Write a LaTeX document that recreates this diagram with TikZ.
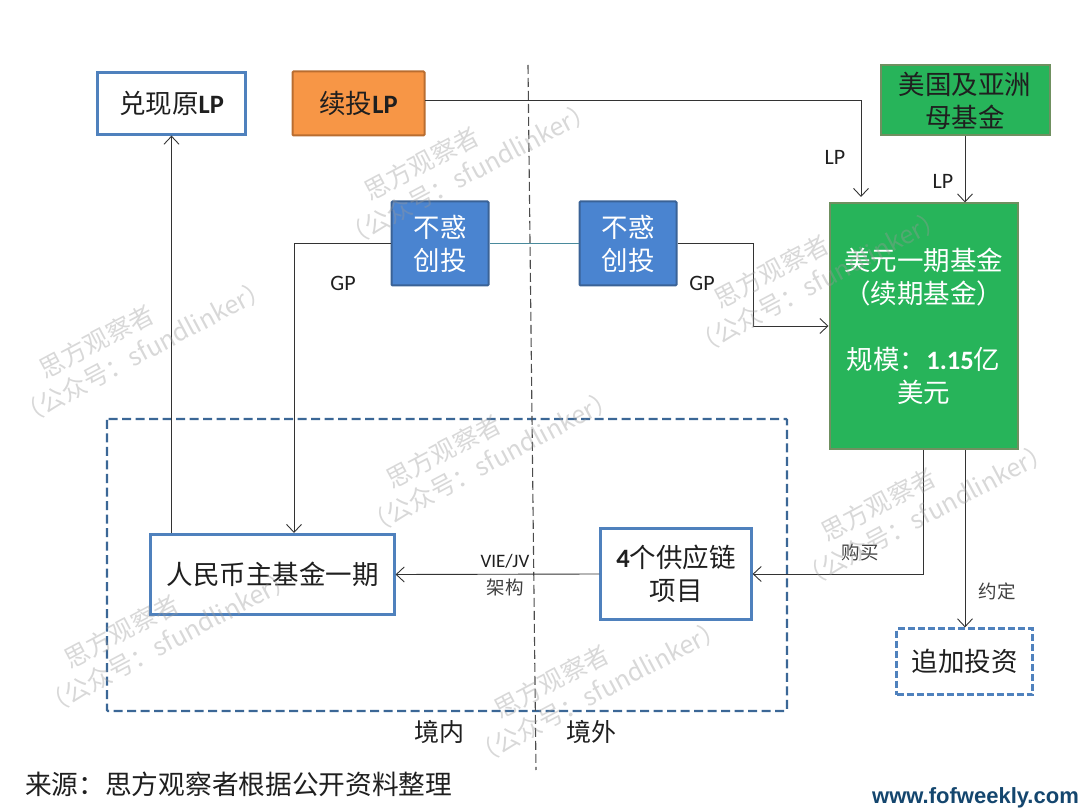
\documentclass[tikz,border=0pt]{standalone}
\usepackage{fontspec}
\setmainfont{Noto Sans CJK SC}
\newfontfamily\carlito{Carlito}
\newfontfamily\liberation{Liberation Sans}
\usepackage{xcolor}
\usetikzlibrary{%
  arrows.meta, positioning, calc
}
\definecolor{boxblue}{HTML}{4F81BD}
\definecolor{boxorange}{HTML}{F79646}
\definecolor{edgeorange}{HTML}{B96D30}
\definecolor{fundgreen}{HTML}{27B45A}
\definecolor{edgeolive}{HTML}{6F9060}
\definecolor{gpblue}{HTML}{4A84D0}
\definecolor{edgeblue}{HTML}{3A6296}
\definecolor{dashblue}{HTML}{3B6796}
\definecolor{tealline}{HTML}{4A8A9C}
\definecolor{siteblue}{HTML}{14466E}
\newcommand{\latb}[1]{{\carlito\bfseries #1}}

\begin{document}
\begin{tikzpicture}[%
    x=1pt, y=-1pt,
    >={Straight Barb[length=8pt,width=15pt]},
    every node/.style={%
      font=\fontsize{26.5}{33}\selectfont,
      text=black!88,
      text centered,
      align=center,
      inner sep=0pt
    },
    frame/.style={draw=boxblue,line width=2.2pt,fill=white},
    framedash/.style={draw=boxblue,line width=2.2pt,dash pattern=on 7pt off 3pt,fill=white},
    lpbox/.style={draw=edgeorange,line width=2pt,fill=boxorange,rounded corners=1pt},
    fundbox/.style={draw=edgeolive,line width=2pt,fill=fundgreen},
    gpbox/.style={draw=edgeblue,line width=2pt,fill=gpblue,text=white,rounded corners=1pt},
    link/.style={draw=black!80,line width=0.9pt},
    tag/.style={font=\fontsize{22}{26}\selectfont\carlito},
    smalltag/.style={font=\fontsize{18.5}{23}\selectfont,text=black!75}
  ]

  \useasboundingbox (0,0) rectangle (1080,810);

  % Dashed regions
  \draw[dashblue, line width=2.2pt, dash pattern=on 9pt off 4.5pt, rounded corners=1pt]
    (107,419) rectangle (787,711);
  \draw[black!70, line width=1.1pt, dash pattern=on 9pt off 4pt]
    (528,65) -- (536,770);

  % Boxes
  \node[frame, minimum width=148pt, minimum height=62pt] (cash) at (171.5,103.5)
    {兑现原\latb{LP}};
  \node[lpbox, minimum width=132pt, minimum height=64pt] (renew) at (358.5,103.5)
    {续投\latb{LP}};
  \node[fundbox, minimum width=169pt, minimum height=70pt] (parent) at (965,100.5)
    {美国及亚洲\\母基金};
  \node[fundbox, minimum width=188pt, minimum height=246pt, text=white] (usd) at (923.5,326.5)
    {美元一期基金\\（续期基金）\\[33pt]规模：\latb{1.15}亿\\美元};
  \node[gpbox, minimum width=97pt, minimum height=84pt] (gpa) at (440,243.5)
    {不惑\\创投};
  \node[gpbox, minimum width=97pt, minimum height=84pt, right=89pt of gpa] (gpb)
    {不惑\\创投};
  \node[frame, minimum width=244pt, minimum height=80pt] (rmb) at (272.5,574.5)
    {人民币主基金一期};
  \node[frame, minimum width=151pt, minimum height=91pt] (proj) at (676,574)
    {\latb{4}个供应链\\项目};
  \node[framedash, minimum width=136pt, minimum height=66pt] (extra) at (964.5,661.5)
    {追加投资};

  % Connectors
  \coordinate (outlp) at (425,100);
  \coordinate (inlp) at (861,197);
  \coordinate (ingp) at (753,326);
  \coordinate (outbuy) at (923,450);
  \coordinate (ingpa) at (294,533);
  \draw[link, ->] (outlp) -| (inlp);
  \draw[link, ->] (parent.south) -- (parent.south |- usd.north);
  \draw[link, ->] (cash.south |- rmb.north) -- (cash.south);
  \draw[link, ->] (gpa.west) -| (ingpa);
  \draw[tealline, line width=0.7pt] (gpa.east) -- (gpb.west);
  \draw[link, ->] (gpb.east) -| (ingp) -- (ingp -| usd.west);
  \draw[link, ->] (outbuy) |- (proj.east);
  \draw[link, ->] (parent.south |- usd.south) -- (parent.south |- extra.north);
  \draw[link, ->] (proj.west) -- (rmb.east);

  % Labels
  \node[tag] (lpa) at (835,157) {LP};
  \node[tag] (lpb) at (943,181) {LP};
  \node[tag] (gpla) at (343,283) {GP};
  \node[tag] (gplb) at (702,283) {GP};
  \node[smalltag] (buy) at (860,552) {购买};
  \node[smalltag] (deal) at (997,591) {约定};
  \node[tag, font=\fontsize{19}{22}\selectfont\carlito] (vie) at (505,561) {VIE/JV};
  \node[smalltag] (arch) at (505,587) {架构};
  \node[font=\fontsize{25}{28}\selectfont] (inland) at (439,732) {境内};
  \node[font=\fontsize{25}{28}\selectfont, right=152pt of inland.center, anchor=center] (abroad) {境外};
  \node[font=\fontsize{26.7}{30}\selectfont, anchor=west] (src) at (25,784) {来源：思方观察者根据公开资料整理};
  \node[font=\fontsize{22}{26}\selectfont\liberation\bfseries, text=siteblue, anchor=east] (site) at (1079,798)
    {www.fofweekly.com};

  % Watermarks
  \foreach \wx/\wy [count=\wi] in {461/160, 136/338, 811/268, 483/448, 918/501, 161/628, 591/678}{
    \node[rotate=28, align=left, text=black!40, opacity=0.38,
      font=\fontsize{25}{31}\selectfont] (wm\wi) at (\wx,\wy)
      {\hspace*{42pt}思方观察者\\（公众号：sfundlinker）};
  }

\end{tikzpicture}
\end{document}
